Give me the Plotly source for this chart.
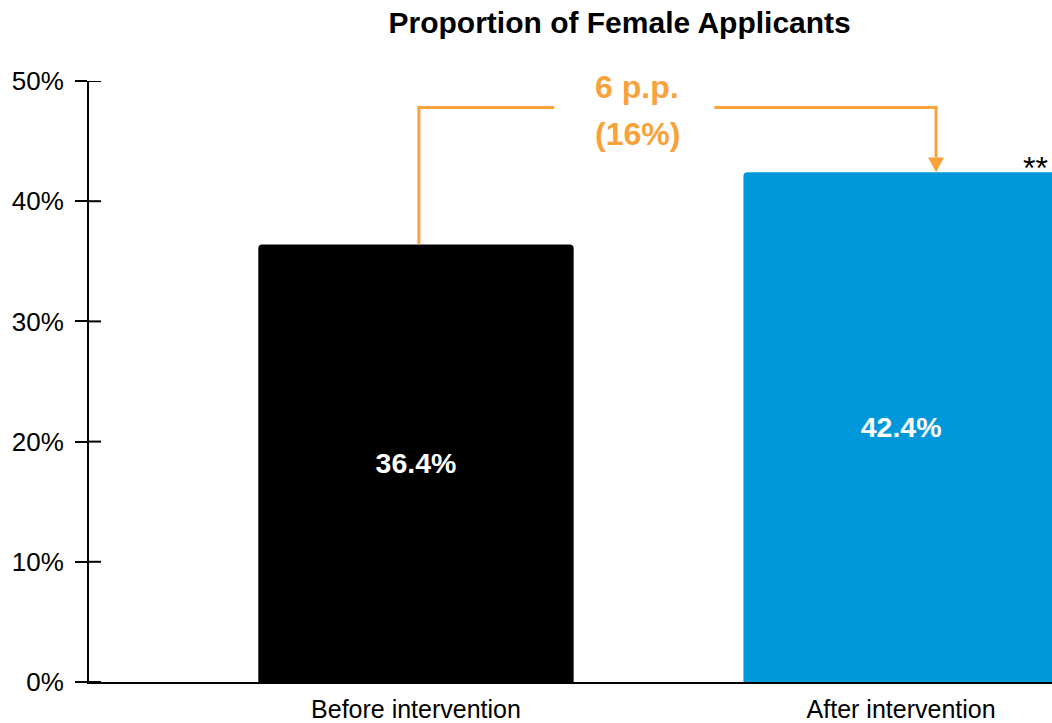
import plotly.graph_objects as go

categories = ["Before intervention", "After intervention"]
values = [36.4, 42.4]
bar_colors = ["#000000", "#0098DA"]
diff_label_lines = ["6 p.p.", "(16%)"]
sig_label = "**"
tick_vals = [0, 10, 20, 30, 40, 50]
tick_text = ["0%", "10%", "20%", "30%", "40%", "50%"]

ORANGE = "#F9A23A"
FONT = "Liberation Sans, Arial, sans-serif"

fig = go.Figure()
fig.add_trace(go.Bar(
    x=[0, 1], y=values, width=0.65,
    marker=dict(color=bar_colors, line=dict(width=0), cornerradius=4),
    texttemplate="%{y:.1f}%", textposition="inside", insidetextanchor="middle",
    textfont=dict(color="white", size=28.5, family=FONT, weight="bold"),
    hoverinfo="skip",
))

W = 963
H = 603
px_x = 1.985 / W   # category units per pixel
px_y = 50 / H      # value units per pixel

# bracket
x_left = 0.006
x_right = 1.072
y_top = 47.8
gap_l, gap_r = 0.285, 0.615
line = dict(color=ORANGE, width=3)
fig.add_shape(type="line", x0=x_left, x1=x_left, y0=values[0], y1=y_top, line=line)
fig.add_shape(type="line", x0=x_left - 1.5 * px_x, x1=gap_l, y0=y_top, y1=y_top, line=line)
fig.add_shape(type="line", x0=gap_r, x1=x_right + 1.5 * px_x, y0=y_top, y1=y_top, line=line)
head_h = 15 * px_y
head_w = 8 * px_x
fig.add_shape(type="line", x0=x_right, x1=x_right, y0=y_top, y1=values[1] + head_h, line=line)
fig.add_shape(type="path",
              path=f"M {x_right - head_w} {values[1] + head_h} L {x_right + head_w} {values[1] + head_h} L {x_right} {values[1]} Z",
              fillcolor=ORANGE, line=dict(color=ORANGE, width=0))

for txt, shift in zip(diff_label_lines, [20, -27]):
    fig.add_annotation(x=0.456, y=y_top, text=txt, showarrow=False,
                       font=dict(color=ORANGE, size=32, family=FONT, weight="bold"),
                       xanchor="center", yanchor="middle", yshift=shift)
fig.add_annotation(x=1.276, y=values[1], text=sig_label, showarrow=False,
                   font=dict(color="black", size=32, family=FONT),
                   xanchor="center", yanchor="middle", yshift=4)

# inside part of y ticks (ticks cross the axis)
for v in tick_vals:
    fig.add_shape(type="line", xref="paper", yref="y", x0=0, x1=12 / W, y0=v, y1=v,
                  line=dict(color="black", width=2))

fig.update_layout(
    width=1052, height=723,
    margin=dict(l=89, r=0, t=81, b=39),
    paper_bgcolor="white", plot_bgcolor="white",
    showlegend=False,
    title=dict(text="Proportion of Female Applicants", x=0.589, xref="container", xanchor="center",
               y=1 - 22 / 723, yref="container", yanchor="middle",
               font=dict(size=30, family=FONT, color="black", weight="bold")),
    font=dict(family=FONT, color="black"),
)
fig.update_xaxes(range=[-0.674, 1.311], tickvals=[0, 1], ticktext=categories,
                 showline=True, linecolor="black", linewidth=2, ticks="",
                 ticklabelstandoff=4,
                 showgrid=False, zeroline=False, tickfont=dict(size=25, family=FONT, color="black"))
fig.update_yaxes(range=[0, 50], tickvals=tick_vals, ticktext=tick_text,
                 showline=True, linecolor="black", linewidth=2, ticks="outside", ticklen=12,
                 tickwidth=2, tickcolor="black", showgrid=False, zeroline=False,
                 ticklabelstandoff=6,
                 tickfont=dict(size=26, family=FONT, color="black"))

fig.write_html("out.html", config={"displayModeBar": False},
               post_script="document.body.style.margin='0';document.body.style.overflow='hidden';")
